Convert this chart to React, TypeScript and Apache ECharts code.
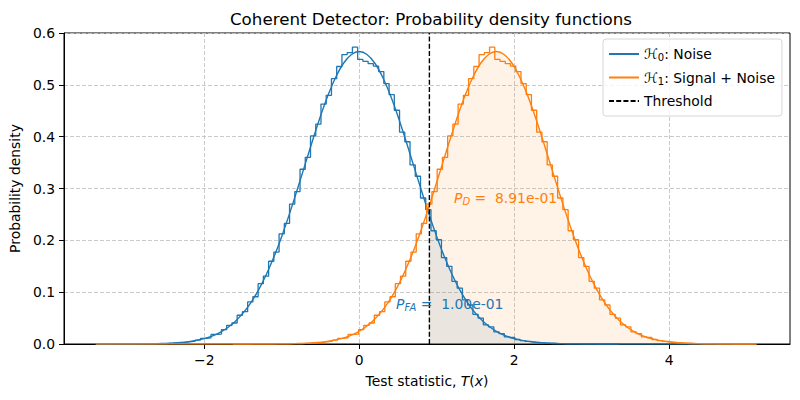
import React, { useEffect, useRef } from "react";
import * as echarts from "echarts";

// ---- data ----
const threshold = 0.906;
const pdf0AtThreshold = 0.2483;
const pdf1AtThreshold = 0.2674;
const pfaText = "1.00e-01";
const pdText = "8.91e-01";

const xTickValues = [-2, 0, 2, 4];

// PDF curve under H0 (noise only)
const pdf0X = [
  -3.4, -3.0, -2.8,
  -2.6, -2.5, -2.4, -2.3, -2.2, -2.1, -2.0, -1.9, -1.8, -1.7, -1.6, -1.5, -1.4, -1.3, -1.2, -1.1, -1.0,
  -0.9, -0.8, -0.7, -0.6, -0.5, -0.4, -0.3, -0.2, -0.1, 0.0, 0.1, 0.2, 0.3, 0.4, 0.5, 0.6, 0.7, 0.8, 0.9,
  1.0, 1.1, 1.2, 1.3, 1.4, 1.5, 1.6, 1.7, 1.8, 1.9, 2.0, 2.1, 2.2, 2.3, 2.4, 2.5, 2.6,
  2.8, 3.0, 3.4, 5.13,
];
const pdf0Y = [
  0.0, 0.0001, 0.0002,
  0.0007, 0.0011, 0.0018, 0.0028, 0.0045, 0.0069, 0.0103, 0.0153, 0.0221, 0.0314, 0.0436, 0.0595, 0.0795, 0.1041, 0.1337, 0.1682, 0.2076,
  0.2510, 0.2975, 0.3456, 0.3936, 0.4394, 0.4808, 0.5156, 0.5421, 0.5586, 0.5642, 0.5586, 0.5421, 0.5156, 0.4808, 0.4394, 0.3936, 0.3456, 0.2975, 0.2510,
  0.2076, 0.1682, 0.1337, 0.1041, 0.0795, 0.0595, 0.0436, 0.0314, 0.0221, 0.0153, 0.0103, 0.0069, 0.0045, 0.0028, 0.0018, 0.0011, 0.0007,
  0.0002, 0.0001, 0.0, 0.0,
];

// PDF curve under H1 (signal + noise)
const pdf1X = [
  -3.4, -1.63, -1.23, -1.03,
  -0.83, -0.73, -0.63, -0.53, -0.43, -0.33, -0.23, -0.13, -0.03, 0.07, 0.17, 0.27, 0.37, 0.47, 0.57, 0.67, 0.77,
  0.87, 0.97, 1.07, 1.17, 1.27, 1.37, 1.47, 1.57, 1.67, 1.77, 1.87, 1.97, 2.07, 2.17, 2.27, 2.37, 2.47, 2.57, 2.67,
  2.77, 2.87, 2.97, 3.07, 3.17, 3.27, 3.37, 3.47, 3.57, 3.67, 3.77, 3.87, 3.97, 4.07, 4.17, 4.27, 4.37,
  4.57, 4.77, 5.13,
];
const pdf1Y = [
  0.0, 0.0, 0.0001, 0.0002,
  0.0007, 0.0011, 0.0018, 0.0028, 0.0045, 0.0069, 0.0103, 0.0153, 0.0221, 0.0314, 0.0436, 0.0595, 0.0795, 0.1041, 0.1337, 0.1682, 0.2076,
  0.2510, 0.2975, 0.3456, 0.3936, 0.4394, 0.4808, 0.5156, 0.5421, 0.5586, 0.5642, 0.5586, 0.5421, 0.5156, 0.4808, 0.4394, 0.3936, 0.3456, 0.2975, 0.2510,
  0.2076, 0.1682, 0.1337, 0.1041, 0.0795, 0.0595, 0.0436, 0.0314, 0.0221, 0.0153, 0.0103, 0.0069, 0.0045, 0.0028, 0.0018, 0.0011, 0.0007,
  0.0002, 0.0001, 0.0,
];

// Step histograms (density), 100 bins; both hypotheses show the same bin pattern, shifted
const hist0Start = -3.4;
const hist1Start = -1.63;
const binWidth = 0.0676;
const histHeights = [
  0.0001, 0.0, 0.0, 0.0001, 0.0001, 0.0001, 0.0003, 0.0001, 0.0003, 0.0004,
  0.0004, 0.0006, 0.0009, 0.0012, 0.0016, 0.0021, 0.0031, 0.0043, 0.0055, 0.0075,
  0.0108, 0.0118, 0.0185, 0.0192, 0.0279, 0.0360, 0.0405, 0.0555, 0.0624, 0.0811,
  0.0912, 0.1164, 0.1308, 0.1596, 0.1773, 0.2126, 0.2326, 0.2700, 0.2940, 0.3371,
  0.3601, 0.4014, 0.4243, 0.4629, 0.4797, 0.5119, 0.5354, 0.5584, 0.5620, 0.5726,
  0.5491, 0.5454, 0.5408, 0.5362, 0.5255, 0.5025, 0.4810, 0.4510, 0.4086, 0.3902,
  0.3455, 0.3236, 0.2817, 0.2592, 0.2185, 0.2011, 0.1667, 0.1499, 0.1210, 0.1077,
  0.0853, 0.0752, 0.0573, 0.0501, 0.0368, 0.0329, 0.0234, 0.0202, 0.0139, 0.0125,
  0.0087, 0.0066, 0.0049, 0.0037, 0.0027, 0.0020, 0.0014, 0.0010, 0.0007, 0.0005,
  0.0004, 0.0002, 0.0002, 0.0001, 0.0001, 0.0, 0.0001, 0.0, 0.0, 0.0001,
];

const BLUE = "#1f77b4";
const ORANGE = "#ff7f0e";
const FONT = "DejaVu Sans";

function stepData(start: number, heights: number[]) {
  const pts: number[][] = [[start, 0]];
  heights.forEach((h, i) => pts.push([start + i * binWidth, h]));
  const end = start + heights.length * binWidth;
  pts.push([end, heights[heights.length - 1]]);
  pts.push([end, 0]);
  return pts;
}

function pairs(xs: number[], ys: number[]) {
  return xs.map((x, i) => [x, ys[i]]);
}

function tail(xs: number[], ys: number[], atThr: number) {
  const pts: number[][] = [[threshold, atThr]];
  xs.forEach((x, i) => {
    if (x > threshold) pts.push([x, ys[i]]);
  });
  return pts;
}

const legendRich = {
  h: { fontFamily: FONT, fontSize: 14, color: "#000" },
  s: { fontFamily: FONT, fontSize: 10, color: "#000", padding: [7, 0, 0, 0] },
  t: { fontFamily: FONT, fontSize: 13.9, color: "#000" },
};

export default function App() {
  const ref = useRef<HTMLDivElement>(null);
  useEffect(() => {
    if (!ref.current) return;
    const chart = echarts.init(ref.current, null, { renderer: "svg" });
    const option: any = {
      animation: false,
      backgroundColor: "#fff",
      textStyle: { fontFamily: FONT },
      title: {
        text: "Coherent Detector: Probability density functions",
        left: 426,
        top: 5,
        textAlign: "center",
        textStyle: { fontFamily: FONT, fontSize: 16.7, fontWeight: "normal", color: "#000" },
      },
      grid: {
        left: 62,
        right: 10,
        top: 33,
        bottom: 56,
        show: true,
        borderColor: "#000",
        borderWidth: 1,
        backgroundColor: "transparent",
      },
      legend: {
        orient: "vertical",
        left: 603,
        top: 39,
        padding: [8, 7, 8, 5],
        itemGap: 8,
        itemWidth: 30,
        itemHeight: 10,
        selectedMode: false,
        backgroundColor: "rgba(255,255,255,0.8)",
        borderColor: "#d6d6d6",
        borderWidth: 1,
        borderRadius: 3,
        itemStyle: { opacity: 0 },
        data: ["H0", "H1", "Threshold"],
        formatter: (name: string) => {
          if (name === "H0") return "{h|ℋ}{s|0}{t|: Noise}";
          if (name === "H1") return "{h|ℋ}{s|1}{t|: Signal + Noise}";
          return "{t|Threshold}";
        },
        textStyle: { fontFamily: FONT, fontSize: 13.9, color: "#000", rich: legendRich },
      },
      xAxis: {
        type: "value",
        min: -3.81,
        max: 5.56,
        name: "{n|Test statistic, }{i|T}{n|(}{i|x}{n|)}",
        nameLocation: "middle",
        nameGap: 30,
        nameTextStyle: {
          rich: {
            n: { fontFamily: FONT, fontSize: 13.9, color: "#000" },
            i: { fontFamily: FONT, fontSize: 13.9, color: "#000", fontStyle: "italic" },
          },
        },
        axisLine: { show: true, onZero: false, lineStyle: { color: "#000", width: 1 } },
        axisTick: { show: true, length: 5, lineStyle: { color: "#000" }, customValues: xTickValues },
        axisLabel: {
          customValues: xTickValues,
          margin: 9,
          color: "#000",
          fontFamily: FONT,
          fontSize: 13.9,
          formatter: (v: number) => (v < 0 ? "\u2212" + Math.abs(v) : String(v)),
        },
        splitLine: { show: true, lineStyle: { color: "#c4c4c4", type: [4, 2], width: 0.9 } },
      },
      yAxis: {
        type: "value",
        min: 0,
        max: 0.6,
        interval: 0.1,
        name: "Probability density",
        nameLocation: "middle",
        nameGap: 39,
        nameTextStyle: { fontFamily: FONT, fontSize: 13.9, color: "#000" },
        axisLine: { show: true, onZero: false, lineStyle: { color: "#000", width: 1 } },
        axisTick: { show: true, length: 5, lineStyle: { color: "#000" } },
        axisLabel: {
          margin: 9,
          color: "#000",
          fontFamily: FONT,
          fontSize: 13.9,
          formatter: (v: number) => v.toFixed(1),
        },
        splitLine: { show: true, lineStyle: { color: "#c4c4c4", type: [4, 2], width: 0.9 } },
      },
      series: [
        {
          name: "hist0",
          type: "line",
          step: "end",
          symbol: "none",
          data: stepData(hist0Start, histHeights),
          lineStyle: { color: BLUE, width: 1.3 },
          itemStyle: { color: BLUE },
        },
        {
          name: "H0",
          type: "line",
          symbol: "none",
          smooth: 0.3,
          data: pairs(pdf0X, pdf0Y),
          lineStyle: { color: BLUE, width: 1.4 },
          itemStyle: { color: BLUE },
        },
        {
          name: "hist1",
          type: "line",
          step: "end",
          symbol: "none",
          data: stepData(hist1Start, histHeights),
          lineStyle: { color: ORANGE, width: 1.3 },
          itemStyle: { color: ORANGE },
        },
        {
          name: "H1",
          type: "line",
          symbol: "none",
          smooth: 0.3,
          data: pairs(pdf1X, pdf1Y),
          lineStyle: { color: ORANGE, width: 1.4 },
          itemStyle: { color: ORANGE },
        },
        {
          name: "fill0",
          type: "line",
          symbol: "none",
          smooth: 0.3,
          data: tail(pdf0X, pdf0Y, pdf0AtThreshold),
          lineStyle: { width: 0, opacity: 0 },
          areaStyle: { color: BLUE, opacity: 0.1 },
          itemStyle: { color: BLUE },
        },
        {
          name: "fill1",
          type: "line",
          symbol: "none",
          smooth: 0.3,
          data: tail(pdf1X, pdf1Y, pdf1AtThreshold),
          lineStyle: { width: 0, opacity: 0 },
          areaStyle: { color: ORANGE, opacity: 0.1 },
          itemStyle: { color: ORANGE },
        },
        {
          name: "Threshold",
          type: "line",
          symbol: "none",
          data: [
            [threshold, 0],
            [threshold, 0.6],
          ],
          lineStyle: { color: "#000", width: 1.4, type: [5, 2.2] },
          itemStyle: { color: "#000" },
        },
      ],
      graphic: [
        {
          type: "text",
          x: 396,
          y: 304,
          z: 10,
          style: {
            text: "{p|P}{s|FA}{t| =  " + pfaText + "}",
            verticalAlign: "middle",
            fill: BLUE,
            rich: {
              p: { fontFamily: FONT, fontSize: 13.9, fontStyle: "italic", fill: BLUE },
              s: { fontFamily: FONT, fontSize: 10, fontStyle: "italic", fill: BLUE, padding: [7, 0, 0, 0] },
              t: { fontFamily: FONT, fontSize: 13.9, fill: BLUE },
            },
          },
        },
        {
          type: "text",
          x: 454,
          y: 198,
          z: 10,
          style: {
            text: "{p|P}{s|D}{t| =  " + pdText + "}",
            verticalAlign: "middle",
            fill: ORANGE,
            rich: {
              p: { fontFamily: FONT, fontSize: 13.9, fontStyle: "italic", fill: ORANGE },
              s: { fontFamily: FONT, fontSize: 10, fontStyle: "italic", fill: ORANGE, padding: [7, 0, 0, 0] },
              t: { fontFamily: FONT, fontSize: 13.9, fill: ORANGE },
            },
          },
        },
      ],
    };
    chart.setOption(option);
    return () => chart.dispose();
  }, []);
  return (
    <div
      ref={ref}
      style={{ position: "fixed", left: 0, top: 0, width: 800, height: 400, background: "#fff" }}
    />
  );
}
